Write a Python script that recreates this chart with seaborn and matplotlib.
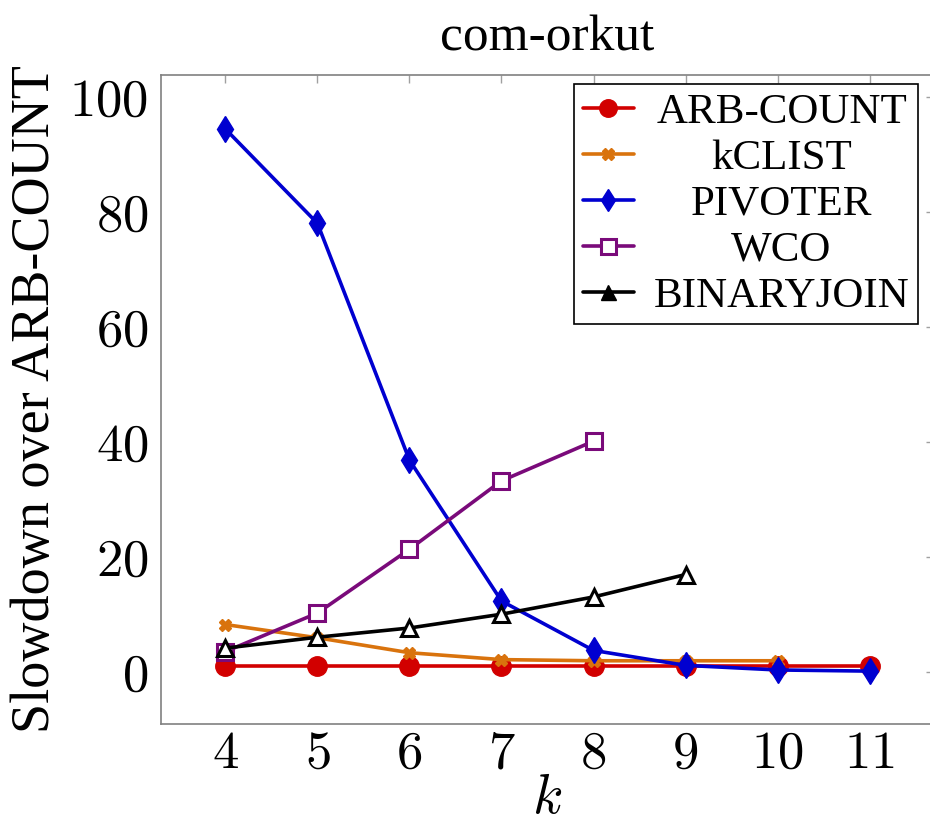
import matplotlib
matplotlib.use("Agg")
import matplotlib.pyplot as plt
import matplotlib.transforms as mtransforms
import seaborn as sns
import pandas as pd

sns.set_theme(style="white")
plt.rcParams['font.family'] = ['Liberation Serif', 'DejaVu Serif']
plt.rcParams['mathtext.fontset'] = 'cm'
plt.rcParams['text.color'] = 'black'
plt.rcParams['axes.labelcolor'] = 'black'

title = "com-orkut"
ylabel = "Slowdown over ARB-COUNT"
xlabel = "$k$"

series_names = ["ARB-COUNT", "kCLIST", "PIVOTER", "WCO", "BINARYJOIN"]

k_arb = [4, 5, 6, 7, 8, 9, 10, 11]
v_arb = [1, 1, 1, 1, 1, 1, 1, 1]

k_kclist = [4, 5, 6, 7, 8, 9, 10]
v_kclist = [8.2, 5.9, 3.3, 2.1, 1.9, 1.9, 1.9]

k_pivoter = [4, 5, 6, 7, 8, 9, 10, 11]
v_pivoter = [94.4, 78.0, 36.8, 12.3, 3.7, 1.1, 0.3, 0.1]

k_wco = [4, 5, 6, 7, 8]
v_wco = [3.5, 10.2, 21.3, 33.2, 40.1]

k_bj = [4, 5, 6, 7, 8, 9]
v_bj = [4.1, 6.0, 7.6, 10.0, 13.0, 16.9]

xticks = [4, 5, 6, 7, 8, 9, 10, 11]
yticks = [0, 20, 40, 60, 80, 100]

frames = []
for name, ks, vs in zip(series_names,
                        [k_arb, k_kclist, k_pivoter, k_wco, k_bj],
                        [v_arb, v_kclist, v_pivoter, v_wco, v_bj]):
    frames.append(pd.DataFrame({"k": ks, "v": vs, "method": name}))
df = pd.concat(frames, ignore_index=True)

colors = {"ARB-COUNT": "#d20000", "kCLIST": "#d9730d", "PIVOTER": "#0000d0",
          "WCO": "#7a0a7a", "BINARYJOIN": "#000000"}
markers = {"ARB-COUNT": "o", "kCLIST": "X", "PIVOTER": "d", "WCO": "s", "BINARYJOIN": "^"}
msizes = {"ARB-COUNT": 14, "kCLIST": 9, "PIVOTER": 13, "WCO": 12, "BINARYJOIN": 12}
faces = {"ARB-COUNT": None, "kCLIST": None, "PIVOTER": None, "WCO": "white", "BINARYJOIN": "white"}

fig = plt.figure(figsize=(9.3, 8.32), dpi=100)
ax = fig.add_axes([161/930, 1-724/832, (934-161)/930, (724-75)/832])

handles = []
for name in series_names:
    sub = df[df["method"] == name]
    sns.lineplot(data=sub, x="k", y="v", ax=ax, color=colors[name], lw=2.6,
                 marker=markers[name], markersize=msizes[name],
                 markeredgecolor=colors[name], markeredgewidth=2.2 if faces[name] else 1.0,
                 markerfacecolor=faces[name] if faces[name] else colors[name],
                 label=name, legend=False, zorder=3)
    h, = ax.plot([], [], color=colors[name], lw=2.6, marker=markers[name],
                 markersize=msizes[name] * 0.9, markeredgecolor=colors[name],
                 markerfacecolor=colors[name] if name != "WCO" else "white",
                 markeredgewidth=2.2 if name == "WCO" else 1.0)
    handles.append(h)

ax.set_xlim(3.3, 11.7)
ax.set_ylim(-9.1, 103.8)
ax.set_xticks(xticks)
ax.set_xticklabels([f"${t}$" for t in xticks])
ax.set_yticks(yticks)
ax.set_yticklabels([f"${t}$" for t in yticks])
ax.tick_params(axis="both", direction="in", length=6, width=1, color="#a0a0a0",
               labelsize=38, top=True, right=True, labelcolor="black")
ax.tick_params(axis="x", pad=5)
ax.tick_params(axis="y", pad=9)
for s in ax.spines.values():
    s.set_color("#808080")
    s.set_linewidth(1.2)

ax.set_xlabel(xlabel, fontsize=40, labelpad=-4)
ax.set_ylabel(ylabel, fontsize=39, labelpad=6)
fig.text(547/930, 1-38/832, title, ha="center", va="center", fontsize=37)

leg = ax.legend(handles, series_names, loc="upper right",
                bbox_to_anchor=(918/930, 1-84/832), bbox_transform=fig.transFigure,
                fontsize=31, frameon=True, fancybox=False, edgecolor="black",
                framealpha=1, borderpad=0.2, labelspacing=0.16, handlelength=1.2,
                handletextpad=0.45, borderaxespad=0)
leg.get_frame().set_linewidth(1.2)

# centre the legend texts within their column, like the original
fig.canvas.draw()
renderer = fig.canvas.get_renderer()
texts = leg.get_texts()
widths = [t.get_window_extent(renderer).width for t in texts]
maxw = max(widths)
for t, w in zip(texts, widths):
    dx = (maxw - w) / 2.0
    t.set_transform(t.get_transform() + mtransforms.Affine2D().translate(dx, 0))

fig.savefig("out.png", dpi=100)
